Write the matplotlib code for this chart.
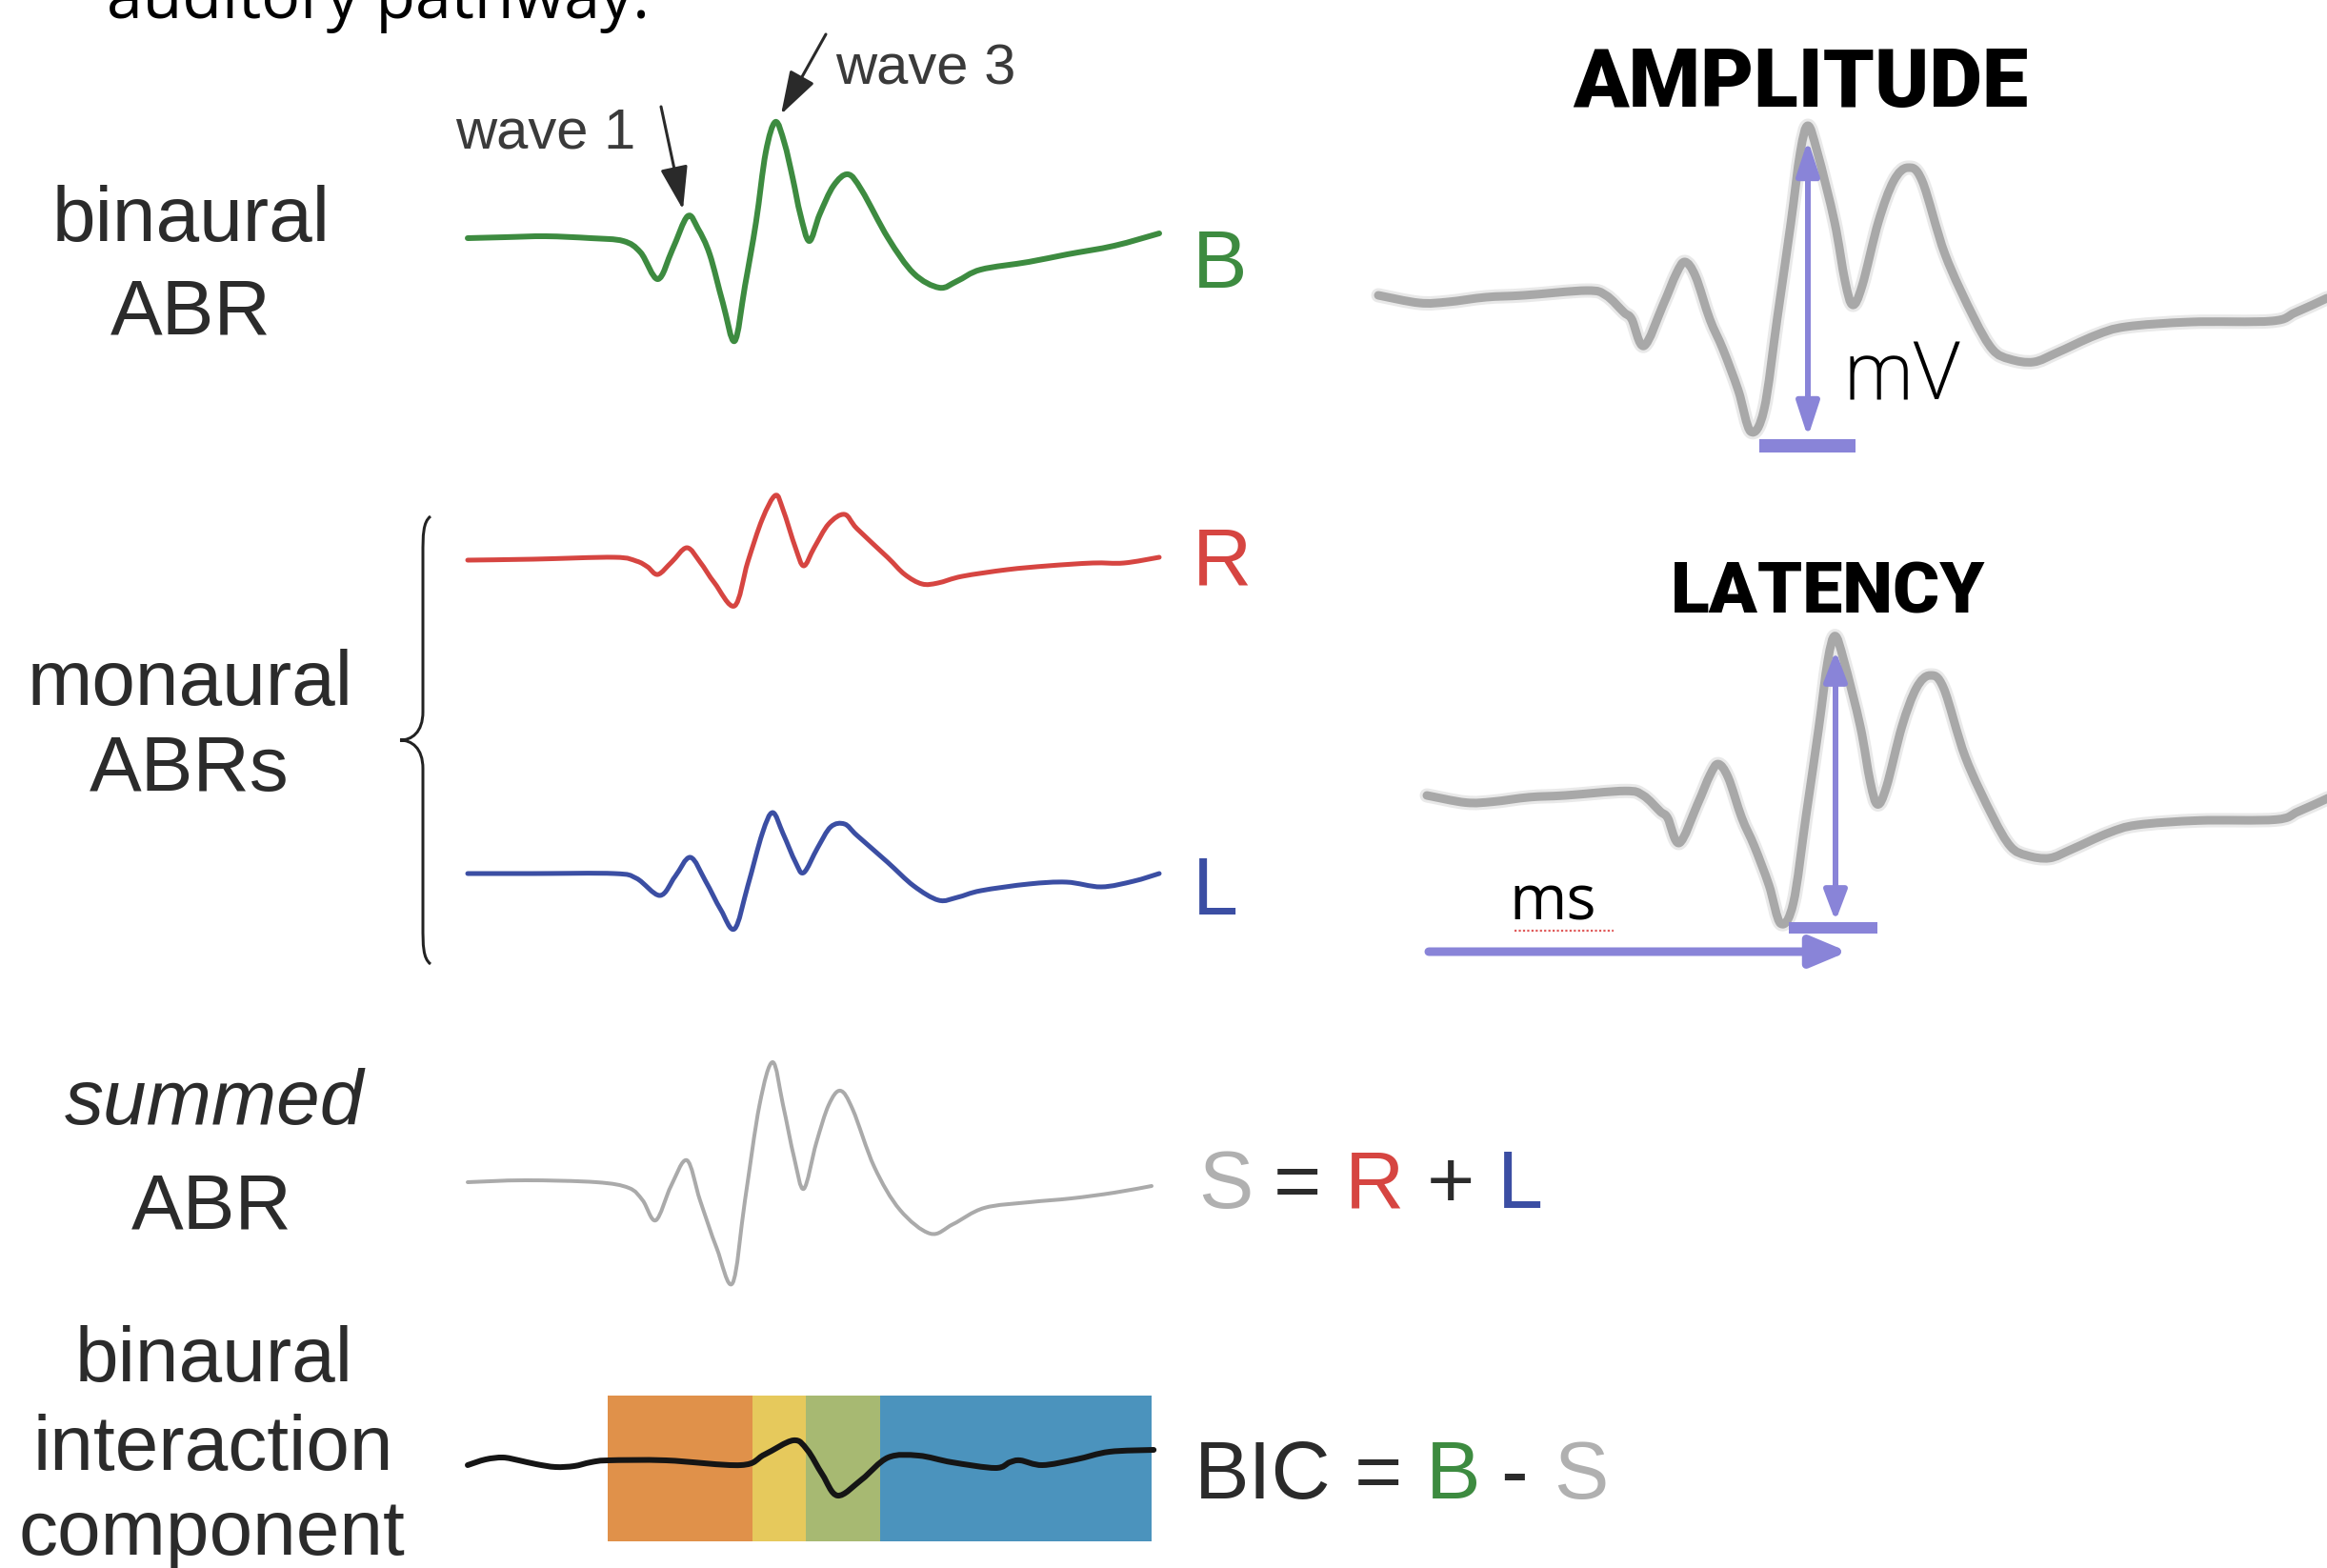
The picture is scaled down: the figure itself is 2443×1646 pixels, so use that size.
"""
ABR schematic: binaural / monaural / summed ABR traces, the binaural
interaction component (BIC), and amplitude / latency read-out panels.
Canvas is laid out in pixel units (2443 x 1646), y pointing down.
"""
import numpy as np
import matplotlib; matplotlib.use("Agg"); import matplotlib.pyplot as plt
from matplotlib.patches import Rectangle, PathPatch
from matplotlib.path import Path

W, H = 2443, 1646
PT = 0.72                      # points per pixel at dpi=100

# ---- left traces: time (ms, 0-10) / amplitude (uV) ----
t_B = [0, .54, 1.13, 1.78, 2.25, 2.50, 2.75, 2.96, 3.18, 3.33, 3.50, 3.69, 3.86, 4.01, 4.17, 4.31, 4.45,
       4.58, 4.70, 4.81, 4.94, 5.09, 5.29, 5.50, 5.70, 6.08, 6.45, 6.82, 7.08, 7.42, 8.11, 8.67, 9.35, 10.0]
v_B = [0, .01, .02, 0, -.03, -.15, -.43, -.12, .23, .10, -.17, -.68, -1.08, -.50, .17, .90, 1.22,
       1.00, .63, .25, -.03, .25, .55, .67, .50, 0, -.37, -.52, -.45, -.33, -.25, -.17, -.08, .05]

t_R = [0, .95, 2.12, 2.44, 2.60, 2.75, 2.95, 3.17, 3.36, 3.57, 3.86, 4.05, 4.26, 4.45, 4.56, 4.74,
       4.86, 5.01, 5.22, 5.45, 5.63, 6.07, 6.32, 6.57, 6.80, 7.15, 7.80, 8.39, 9.04, 9.49, 10.0]
v_R = [0, .01, .03, -.01, -.07, -.15, -.02, .13, -.02, -.24, -.48, -.02, .43, .68, .53, .13,
       -.06, .13, .38, .48, .33, .03, -.15, -.25, -.24, -.17, -.10, -.06, -.03, -.03, .03]

t_L = [0, .95, 2.12, 2.44, 2.78, 3.00, 3.22, 3.44, 3.66, 3.86, 4.05, 4.26, 4.41, 4.56, 4.74, 4.86,
       5.06, 5.25, 5.45, 5.63, 6.07, 6.45, 6.81, 7.08, 7.42, 8.11, 8.66, 9.16, 9.63, 10.0]
v_L = [0, 0, 0, -.05, -.23, -.03, .17, -.08, -.38, -.58, -.13, .42, .64, .42, .12, .01,
       .27, .49, .52, .40, .12, -.13, -.28, -.25, -.18, -.11, -.09, -.14, -.08, 0]

t_S = [0, .83, 1.86, 2.33, 2.53, 2.72, 2.94, 3.17, 3.36, 3.60, 3.83, 4.01, 4.22, 4.41, 4.56, 4.72,
       4.86, 5.04, 5.22, 5.39, 5.57, 5.88, 6.25, 6.69, 7.02, 7.47, 8.12, 8.73, 9.35, 9.89]
v_S = [0, .02, 0, -.06, -.19, -.40, -.04, .23, -.19, -.69, -1.06, -.19, .81, 1.26, .81, .26,
       -.07, .41, .81, .96, .76, .16, -.29, -.54, -.44, -.27, -.21, -.17, -.11, -.04]

t_BIC = [0, .26, .51, .74, .99, 1.27, 1.54, 1.78, 2.03, 2.87, 3.95, 4.29, 4.71, 4.91, 5.13, 5.35,
         5.70, 6.08, 6.52, 7.00, 7.63, 7.84, 7.99, 8.31, 8.80, 9.28, 9.92]
v_BIC = [-.02, .04, .06, .03, -.01, -.04, -.03, .01, .03, .03, -.02, .09, .24, .14, -.12, -.34,
         -.17, .06, .08, .01, -.05, .01, .03, -.02, .04, .12, .14]

# BIC analysis windows (ms edges) and colours
bic_edges = [2.02, 4.12, 4.89, 5.96, 9.89]
bic_colors = ['#e0914a', '#e6c95c', '#a7b972', '#4b93bd']

# ---- right panels: generic ABR (ms / uV) used for amplitude and latency ----
t_G = [0, .43, .73, 1.13, 1.53, 2.19, 2.39, 2.58, 2.66, 2.79, 2.99, 3.13, 3.22, 3.33, 3.48, 3.62, 3.78,
       3.91, 4.05, 4.19, 4.33, 4.43, 4.51, 4.61, 4.79, 4.90, 4.98, 5.08, 5.25, 5.41, 5.56, 5.71, 5.95,
       6.25, 6.45, 6.63, 6.88, 7.13, 7.53, 7.85, 8.53, 9.38, 9.63, 9.96]
v_G = [0, -.08, -.07, -.02, 0, .05, 0, -.18, -.25, -.53, -.10, .23, .35, .20, -.25, -.57, -1.00,
       -1.43, -1.20, -.23, .75, 1.50, 1.78, 1.50, .77, .15, -.10, .10, .77, 1.20, 1.34, 1.20, .43,
       -.23, -.57, -.67, -.70, -.60, -.42, -.33, -.28, -.27, -.18, -.03]

GREEN, RED, BLUE, GRAY, DARK = '#3d8b40', '#d64541', '#3b4ea3', '#aaaaaa', '#2b2b2b'
PURPLE = '#8984d8'

fig = plt.figure(figsize=(W/100, H/100), dpi=100)
ax = fig.add_axes([0, 0, 1, 1]); ax.set_xlim(0, W); ax.set_ylim(H, 0); ax.axis('off')

def trace(t, v, x0, y0, sx, sy, color, lw, **kw):
    # smooth curve through the read points (Catmull-Rom as cubic Bezier segments)
    P = np.column_stack([x0 + np.asarray(t)*sx, y0 - np.asarray(v)*sy]); n = len(P)
    verts, codes = [P[0]], [Path.MOVETO]
    for i in range(n - 1):
        p0 = P[max(i - 1, 0)]; p1 = P[i]; p2 = P[i + 1]; p3 = P[min(i + 2, n - 1)]
        verts += [p1 + (p2 - p0)/6, p2 - (p3 - p1)/6, p2]; codes += [Path.CURVE4]*3
    ax.add_patch(PathPatch(Path(verts, codes), fill=False, edgecolor=color, lw=lw,
                           capstyle='round', joinstyle='round', **kw))

# left column traces (x0=491px, 72.6 px/ms, 100 px/uV)
X0, SX, SY = 491, 72.6, 100
trace(t_B, v_B, X0, 250, SX, SY, GREEN, 6*PT)
trace(t_R, v_R, X0, 588, SX, SY, RED, 5*PT)
trace(t_L, v_L, X0, 917, SX, SY, BLUE, 5*PT)
trace(t_S, v_S, X0, 1241, SX, SY, GRAY, 4*PT)
for a, b, c in zip(bic_edges[:-1], bic_edges[1:], bic_colors):
    ax.add_patch(Rectangle((X0 + a*SX, 1465), (b - a)*SX, 153, color=c, lw=0, zorder=1))
trace(t_BIC, v_BIC, X0, 1536, SX, SY, '#151515', 6*PT, zorder=3)

# right panels (blurred grey trace)
for y0, x0, sx, sy in [(310, 1447, 100, 100), (835, 1498, 95, 94)]:
    trace(t_G, v_G, x0, y0, sx, sy, '#a8a8a8', 15*PT, alpha=.25)
    trace(t_G, v_G, x0, y0, sx, sy, '#a8a8a8', 9*PT)

# purple measurement marks
def parrow(p0, p1, style, ms, hl, hw, lw):
    ax.annotate('', xy=p1, xytext=p0,
                arrowprops=dict(arrowstyle=f'{style},head_length={hl},head_width={hw}',
                                color=PURPLE, lw=lw*PT, shrinkA=0, shrinkB=0, mutation_scale=ms))
parrow((1898, 459), (1898, 147), '<|-|>', 20, 1.1, .36, 6)
ax.add_patch(Rectangle((1847, 461), 101, 14, color=PURPLE, lw=0))
parrow((1927, 967), (1927, 683), '<|-|>', 20, 0.95, .36, 6)
ax.add_patch(Rectangle((1878, 968), 93, 12, color=PURPLE, lw=0))
parrow((1500, 999), (1940, 999), '-|>', 22, 1.05, .44, 9)

ax.text(1890, 112, 'AMPLITUDE', fontsize=62, family=['Roboto', 'DejaVu Sans'], fontweight='black',
        ha='center', va='baseline', color='black')
ax.text(1919, 643, 'LATENCY', fontsize=54, family=['Roboto', 'DejaVu Sans'], fontweight='black',
        ha='center', va='baseline', color='black')
ax.text(1934, 419, 'mV', fontsize=61, family=['Open Sans', 'DejaVu Sans'], fontweight='light',
        ha='left', va='baseline', color='black')
ax.text(1584, 965, 'ms', fontsize=47, family=['Open Sans', 'DejaVu Sans'],
        ha='left', va='baseline', color='black')
ax.plot([1590, 1694], [977, 977], color='#e05a5a', lw=1.6, ls=(0, (1, 1)))

# top caption (cut off by the frame edge, as in the source slide)
ax.text(112, 19, 'auditory pathway.', fontsize=49, family=['Open Sans', 'DejaVu Sans'],
        ha='left', va='baseline', color='black')

# left labels
LAB = dict(fontsize=59, family=['Liberation Sans', 'DejaVu Sans'], ha='center', va='baseline', color=DARK)
for txt, x, y, st in [('binaural', 201, 253, 'normal'), ('ABR', 200, 350, 'normal'),
                      ('monaural', 200, 740, 'normal'), ('ABRs', 199, 830, 'normal'),
                      ('summed', 225, 1180, 'italic'), ('ABR', 222, 1289, 'normal'),
                      ('binaural', 225, 1450, 'normal'), ('interaction', 224, 1543, 'normal'),
                      ('component', 222, 1632, 'normal')]:
    ax.text(x, y, txt, fontstyle=st, **LAB)

# wave markers
WL = dict(fontsize=43, family=['Liberation Sans', 'DejaVu Sans'], ha='left', va='baseline', color='#3a3a3a')
ax.text(478, 155, 'wave 1', **WL); ax.text(877, 88, 'wave 3', **WL)
for p0, p1 in [((694, 112), (717, 220)), ((867, 36), (820, 120))]:
    ax.annotate('', xy=p1, xytext=p0, arrowprops=dict(arrowstyle='-|>,head_length=1.0,head_width=0.32',
                color='#2a2a2a', lw=2.2, shrinkA=0, shrinkB=0, mutation_scale=28))

# brace for monaural pair
bx, tx, y_top, y_mid, y_bot = 452, 420, 542, 777, 1012
verts = [(bx, y_top), (444, y_top + 6), (444, y_top + 20), (444, y_top + 40),
         (444, y_mid - 30),
         (444, y_mid - 8), (432, y_mid), (tx, y_mid),
         (432, y_mid), (444, y_mid + 8), (444, y_mid + 30),
         (444, y_bot - 40),
         (444, y_bot - 20), (444, y_bot - 6), (bx, y_bot)]
codes = [Path.MOVETO, Path.CURVE4, Path.CURVE4, Path.CURVE4, Path.LINETO,
         Path.CURVE4, Path.CURVE4, Path.CURVE4, Path.CURVE4, Path.CURVE4, Path.CURVE4,
         Path.LINETO, Path.CURVE4, Path.CURVE4, Path.CURVE4]
ax.add_patch(PathPatch(Path(verts, codes), fill=False, color='#222222', lw=3*PT))

# trace labels and equations
RL = dict(fontsize=62, family=['Liberation Sans', 'DejaVu Sans'], ha='left', va='baseline')
ax.text(1252, 302, 'B', color=GREEN, **RL)
ax.text(1252, 614, 'R', color=RED, **RL)
ax.text(1252, 960, 'L', color=BLUE, **RL)
for txt, c, x in [('S', '#b0b0b0', 1258), ('=', DARK, 1337), ('R', RED, 1412), ('+', DARK, 1498), ('L', BLUE, 1572)]:
    ax.text(x, 1268, txt, color=c, **RL)
for txt, c, x in [('BIC', DARK, 1254), ('=', DARK, 1422), ('B', GREEN, 1497), ('-', DARK, 1575), ('S', '#b0b0b0', 1631)]:
    ax.text(x, 1573, txt, color=c, **RL)

fig.savefig('out.png', dpi=100, facecolor='white')
